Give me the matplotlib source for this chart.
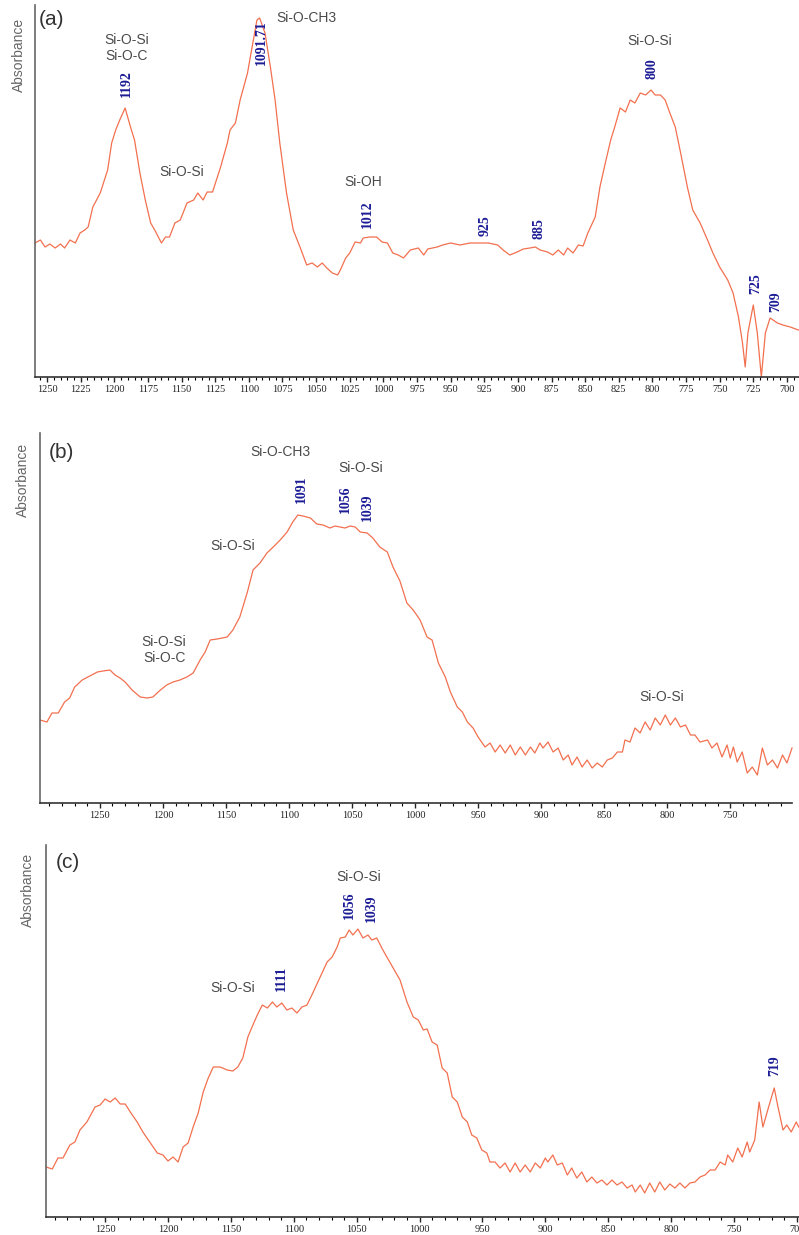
import matplotlib
matplotlib.use('Agg')
import matplotlib.pyplot as plt
from matplotlib.ticker import MultipleLocator

# ---- panel (a) ----
wn_a = [1259, 1255, 1251.5, 1248, 1244, 1240, 1237, 1233, 1229, 1225.5, 1222, 1219.5, 1216, 1210.5,
        1205, 1202, 1199, 1196, 1192, 1188, 1185, 1181, 1177, 1173, 1170, 1165, 1162, 1159, 1155,
        1151, 1146, 1141, 1138, 1134, 1131, 1127, 1121, 1116, 1114, 1110, 1106.5, 1101, 1098, 1094,
        1092, 1088, 1084, 1080.5, 1077, 1072, 1067, 1062, 1057, 1053, 1049, 1045.5, 1042, 1038, 1034,
        1032, 1028, 1025, 1021, 1017, 1015, 1010, 1005, 1001, 997, 993, 989, 985, 980, 974, 970, 967,
        960, 956, 950, 943, 935.5, 928, 922, 915, 911, 906, 900.5, 896, 891, 887, 883.5, 878, 874, 870,
        866, 863, 859, 855, 851.5, 848, 842.5, 839, 835, 831, 828, 824, 820, 816.5, 813, 809, 805, 801,
        798, 794, 790.5, 787, 783, 779, 774, 770, 764.5, 759, 755, 750, 744, 740, 736, 733, 731, 729,
        725, 722, 719, 716, 712.5, 707, 703, 697.5, 691.5]
abs_a = [134, 137, 130, 133, 129, 133, 129, 137, 134, 144, 147, 150, 170, 184,
         207, 234, 247, 257, 269, 250, 237, 204, 177, 154, 147, 134, 140, 140, 154,
         157, 174, 177, 184, 177, 185, 185, 210, 234, 247, 254, 277, 304, 327, 357,
         359, 344, 310, 277, 234, 184, 147, 130, 112, 114, 110, 114, 109, 104, 102,
         107, 119, 124, 135, 134, 139, 140, 140, 135, 134, 124, 122, 119, 127, 129, 122, 128,
         130, 132, 134, 132, 134, 134, 134, 132, 127, 122, 125, 128, 129, 130, 127, 125, 122, 127,
         122, 129, 124, 132, 131, 144, 160, 190, 214, 237, 250, 269, 265, 277, 274, 284, 282, 287,
         282, 282, 277, 264, 250, 224, 190, 167, 154, 137, 124, 110, 97, 84, 60, 34, 10, 44,
         72, 44, 0, 44, 59, 54, 52, 50, 47]
groups_a = [('Si-O-Si\nSi-O-C', 1191, 329), ('Si-O-Si', 1150, 205), ('Si-O-CH3', 1057, 359),
            ('Si-OH', 1015, 195), ('Si-O-Si', 802, 336)]
peaks_a = [('1192', 1191, 293), ('1091.71', 1091, 334), ('1012', 1012, 163), ('925', 924.5, 151),
           ('885', 884, 148), ('800', 800, 308), ('725', 723.5, 93), ('709', 708.5, 75)]

# ---- panel (b) ----
wn_b = [1297.5, 1292, 1288, 1283, 1278, 1274, 1270, 1264, 1259.5, 1252, 1247.5, 1242, 1238, 1234,
        1230, 1224.5, 1218, 1212.5, 1208, 1202, 1197, 1192, 1186.5, 1181, 1176, 1170.5, 1166.5,
        1162.5, 1157, 1149, 1144.5, 1139, 1133, 1128.5, 1123, 1117.5, 1112.5, 1107, 1101.5, 1097,
        1093, 1089, 1083, 1078, 1073, 1067.5, 1063.5, 1059.5, 1055.5, 1051.5, 1047.5, 1043.5, 1038,
        1033.5, 1028, 1022, 1017.5, 1012, 1006.5, 1001.5, 996, 990.5, 986.5, 981.5, 976, 972, 966.5,
        962.5, 958.5, 954, 950, 944.5, 940.5, 936.5, 932.5, 928.5, 924.5, 920.5, 916.5, 912.5, 908.5,
        905, 901, 898.5, 894.5, 890.5, 886.5, 882.5, 878.5, 875.5, 871.5, 867.5, 863.5, 859.5, 855.5,
        851.5, 847.5, 843.5, 839.5, 835.5, 833.5, 829.5, 825.5, 821.5, 817.5, 813.5, 809.5, 805.5,
        801.5, 797.5, 793.5, 789.5, 785.5, 781.5, 778, 774, 768, 764.5, 760.5, 756.5, 752.5, 750,
        747.5, 744.5, 740.5, 736.5, 732.5, 728.5, 724.5, 720.5, 716.5, 712.5, 708.5, 705, 701]
abs_b = [83, 81, 90, 90, 101, 105, 116, 123, 126, 131, 132, 133, 128, 125,
         121, 113, 106, 105, 106, 113, 118, 121, 123, 126, 130, 143, 151,
         163, 164, 166, 173, 186, 211, 233, 240, 250, 256, 263, 271, 281,
         288, 287, 285, 279, 278, 275, 277, 276, 275, 277, 276, 271, 270,
         265, 256, 251, 236, 222, 200, 193, 183, 166, 163, 140, 126, 111, 96,
         91, 81, 75, 66, 56, 60, 51, 58, 50, 58, 48, 56, 48, 56,
         50, 60, 55, 61, 51, 55, 43, 48, 38, 46, 36, 43, 35, 40,
         36, 43, 45, 51, 51, 63, 61, 75, 70, 81, 73, 85, 78,
         88, 78, 85, 76, 78, 68, 68, 61, 63, 55, 60, 46, 58, 45,
         56, 41, 51, 30, 36, 28, 55, 38, 43, 35, 48, 40, 55]
groups_b = [('Si-O-CH3', 1106.5, 351), ('Si-O-Si', 1043, 335), ('Si-O-Si', 1144.5, 257),
            ('Si-O-Si\nSi-O-C', 1199, 153), ('Si-O-Si', 804, 106)]
peaks_b = [('1091', 1090, 314), ('1056', 1055.5, 304), ('1039', 1038, 296)]

# ---- panel (c) ----
wn_c = [1297, 1292, 1287.5, 1283.5, 1278, 1274, 1270, 1264.5, 1258, 1254, 1250, 1246, 1242, 1238,
        1234, 1230, 1224.5, 1220, 1214, 1208.5, 1204, 1200, 1196, 1192, 1188, 1184, 1180, 1176, 1172,
        1168, 1164, 1158.5, 1153, 1148.5, 1144.5, 1140.5, 1136.5, 1132.5, 1129, 1125, 1121, 1117,
        1113.5, 1109.5, 1105.5, 1101.5, 1097.5, 1093.5, 1089.5, 1084.5, 1079, 1073.5, 1069.5, 1065.5,
        1063, 1059, 1056, 1053, 1049, 1045, 1041, 1038, 1034, 1030, 1026, 1021, 1015.5, 1010, 1005,
        1001, 997, 994, 990, 986, 982, 978, 974, 970, 966, 962, 958.5, 954.5, 950.5, 946.5, 944, 940,
        936, 932, 928, 924, 920, 916, 912, 908, 904, 900, 898, 894, 890.5, 886.5, 882.5, 879, 875,
        871, 867, 863, 859, 855, 851, 847, 843, 839, 835, 831, 828.5, 824.5, 821, 817, 813, 809, 805,
        801, 797, 793, 789, 785, 781, 777, 773, 769, 765, 761, 757, 755, 751, 747, 743.5, 739.5,
        737.5, 733.5, 730, 727, 722, 718, 715, 711, 708, 704.5, 700.5, 698.5]
abs_c = [50, 48, 59, 59, 72, 75, 87, 95, 110, 112, 118, 115, 119, 113,
         113, 105, 95, 85, 74, 64, 62, 56, 60, 55, 70, 74, 90, 104, 125,
         139, 150, 150, 147, 146, 150, 159, 180, 192, 202, 212, 209, 215,
         210, 214, 207, 209, 204, 210, 212, 225, 240, 255, 260, 270,
         279, 280, 287, 282, 288, 279, 282, 277, 279, 269, 260, 249, 237, 215, 200,
         197, 187, 188, 175, 172, 149, 144, 120, 115, 100, 95, 82, 79, 67, 64, 55, 55,
         49, 54, 45, 54, 45, 52, 45, 54, 49, 59, 55, 62, 52, 54, 42, 49, 39,
         45, 35, 40, 34, 37, 32, 37, 32, 35, 29, 32, 25, 32, 24, 34, 25, 35, 27,
         33, 29, 34, 29, 34, 35, 40, 42, 47, 47, 55, 52, 62, 55, 69, 60, 75,
         65, 77, 115, 90, 112, 129, 110, 87, 92, 85, 95, 90]
groups_c = [('Si-O-Si', 1048, 340), ('Si-O-Si', 1148.5, 229)]
peaks_c = [('1056', 1056, 312), ('1039', 1038.5, 309), ('1111', 1110, 239), ('719', 717.5, 151)]

line_color = '#f2704f'
gray = '#4a4a4a'
navy = '#1c1c96'

fig = plt.figure(figsize=(7.99, 12.35), dpi=100)


def draw_panel(rect, xlim, ylim, wn, ab, groups, peaks, tag, tag_pos, ylab_pos, major, minor):
    ax = fig.add_axes(rect)
    ax.plot(wn, ab, color=line_color, lw=0.9, clip_on=False)
    ax.set_xlim(*xlim)
    ax.set_ylim(*ylim)
    for s in ['top', 'right']:
        ax.spines[s].set_visible(False)
    ax.spines['left'].set_color('#666666')
    ax.spines['bottom'].set_color('#333333')
    ax.spines['left'].set_linewidth(1.2)
    ax.spines['bottom'].set_linewidth(1.2)
    ax.set_yticks([])
    ax.xaxis.set_major_locator(MultipleLocator(major))
    ax.xaxis.set_minor_locator(MultipleLocator(minor))
    ax.tick_params(axis='x', which='major', length=3.5, width=1, direction='out',
                   pad=2, labelsize=7.5, colors='#222222')
    ax.tick_params(axis='x', which='minor', length=1.8, width=0.8, direction='out')
    for lab in ax.get_xticklabels():
        lab.set_family('Liberation Serif')
    for txt, x, y in groups:
        ax.text(x, y, txt, ha='center', va='center', fontsize=10, color=gray,
                family='Liberation Sans', linespacing=1.15)
    for txt, x, y in peaks:
        ax.text(x, y, txt, ha='center', va='center', rotation=90, fontsize=10,
                color=navy, family='Liberation Serif', fontweight='bold')
    ax.text(tag_pos[0], tag_pos[1], tag, transform=ax.transAxes, ha='center', va='center',
            fontsize=15, color='#333333', family='Liberation Sans')
    ax.text(ylab_pos[0], ylab_pos[1], 'Absorbance', transform=ax.transAxes, rotation=90,
            ha='center', va='center', fontsize=10, color='#666666', family='Liberation Sans')
    return ax


draw_panel([35 / 799, 1 - 377 / 1235, 764 / 799, 372 / 1235], (1259, 691), (0, 372),
           wn_a, abs_a, groups_a, peaks_a, '(a)', (0.021, 0.96), (-0.021, 0.866), 25, 5)
draw_panel([40 / 799, 1 - 803 / 1235, 752 / 799, 370 / 1235], (1297.5, 701), (0, 370),
           wn_b, abs_b, groups_b, peaks_b, '(b)', (0.028, 0.946), (-0.0226, 0.873), 50, 10)
draw_panel([46 / 799, 1 - 1217 / 1235, 753 / 799, 372 / 1235], (1297, 698.3), (0, 372),
           wn_c, abs_c, groups_c, peaks_c, '(c)', (0.029, 0.952), (-0.0239, 0.879), 50, 10)

fig.savefig('out.png', dpi=100, facecolor='white')
